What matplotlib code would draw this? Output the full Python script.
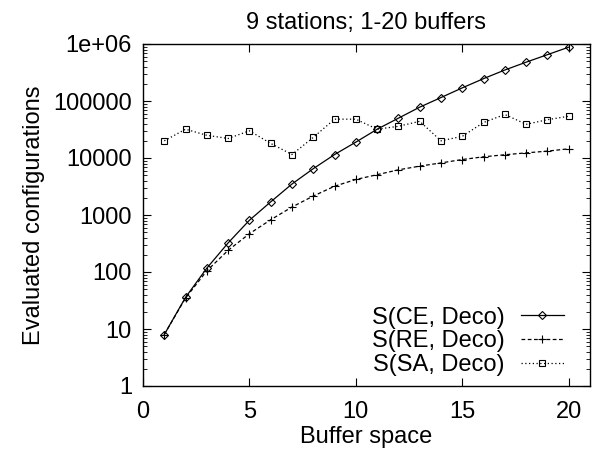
import numpy as np
import matplotlib
matplotlib.use('Agg')
import matplotlib.pyplot as plt
from matplotlib.ticker import LogLocator, NullFormatter

plt.rcParams['font.family'] = ['Liberation Sans', 'DejaVu Sans']

# data
buffers = list(range(1, 21))
ce_deco = [8, 36, 117, 324, 810, 1700, 3500, 6500, 11500, 19000,
           32000, 50000, 78000, 115000, 170000, 247000, 350000, 480000, 650000, 880000]
re_deco = [8, 35, 105, 240, 470, 825, 1380, 2150, 3200, 4200,
           5100, 6200, 7200, 8200, 9400, 10500, 11400, 12300, 13200, 14500]
sa_deco = [20000, 32000, 25000, 22000, 30000, 18000, 11500, 23000, 48000, 48000,
           32000, 36000, 44000, 20000, 24000, 42000, 58000, 39000, 47000, 54000]

ytick_vals = [1, 10, 100, 1000, 10000, 100000, 1000000]
ytick_labels = ['1', '10', '100', '1000', '10000', '100000', '1e+06']
xtick_vals = [0, 5, 10, 15, 20]

fig = plt.figure(figsize=(5.92, 4.49), dpi=100)
ax = fig.add_axes([143/592, 63/449, 447/592, 342/449])

ax.plot(buffers, ce_deco, color='black', lw=0.9, linestyle='-',
        marker='D', markersize=3.6, markerfacecolor='none', markeredgewidth=0.8,
        label='S(CE, Deco)')
ax.plot(buffers, re_deco, color='black', lw=0.9, linestyle=(0, (3, 2)),
        marker='+', markersize=6, markeredgewidth=0.8,
        label='S(RE, Deco)')
ax.plot(buffers, sa_deco, color='black', lw=0.9, linestyle=(0, (1, 2)),
        marker='s', markersize=5, markerfacecolor='none', markeredgewidth=0.8,
        label='S(SA, Deco)')

ax.set_yscale('log')
ax.set_xlim(0, 21)
ax.set_ylim(1, 1e6)
ax.set_xticks(xtick_vals)
ax.set_xticklabels([str(v) for v in xtick_vals])
ax.set_yticks(ytick_vals)
ax.set_yticklabels(ytick_labels)
ax.yaxis.set_minor_locator(LogLocator(base=10, subs=np.arange(2, 10)))
ax.yaxis.set_minor_formatter(NullFormatter())

ax.tick_params(which='both', direction='in', top=True, right=True,
               labelsize=17, color='black')
ax.tick_params(which='major', length=6, width=0.8)
ax.tick_params(which='minor', length=3, width=0.6)
ax.tick_params(axis='x', which='major', pad=11)
ax.tick_params(axis='y', which='major', pad=8)
for s in ax.spines.values():
    s.set_linewidth(1.0)

ax.set_title('9 stations; 1-20 buffers', fontsize=17, pad=11)
ax.set_xlabel('Buffer space', fontsize=17, labelpad=2)
ax.set_ylabel('Evaluated configurations', fontsize=17, labelpad=6)

ax.legend(loc='lower right', bbox_to_anchor=(0.978, -0.02), frameon=False,
          markerfirst=False, fontsize=17, handlelength=1.8, handletextpad=0.7,
          labelspacing=0.08, borderpad=0.2)

fig.savefig('out.png', dpi=100)
